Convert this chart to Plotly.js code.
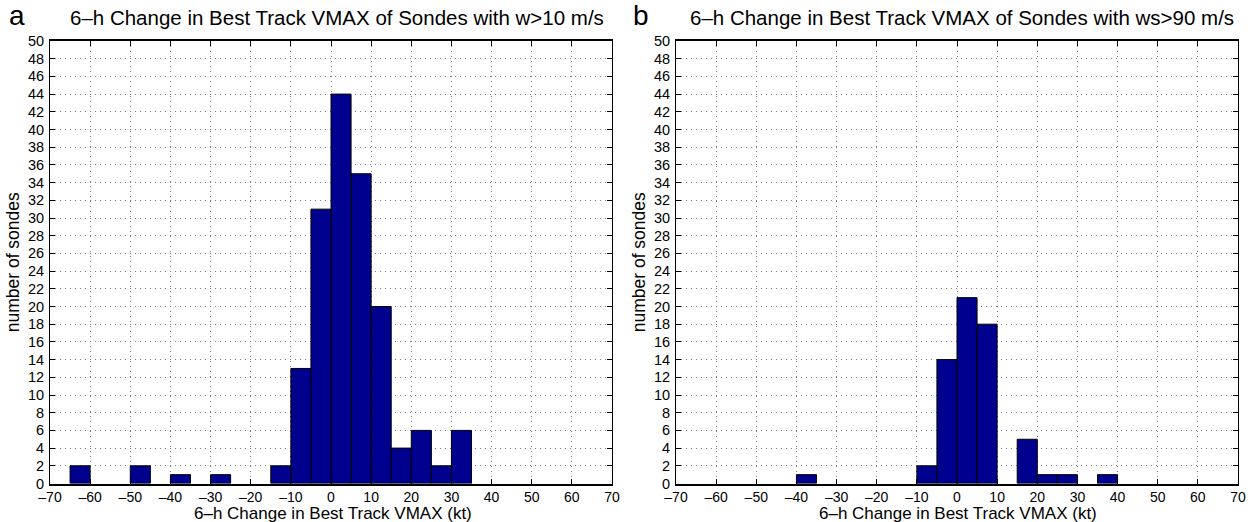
<!DOCTYPE html>
<html>
<head>
<meta charset="utf-8">
<script src="https://cdn.plot.ly/plotly-3.0.1.min.js"></script>
<style>html,body{margin:0;padding:0;background:#fff;}#chart{width:1248px;height:522px;}</style>
</head>
<body>
<div id="chart"></div>
<script>
// Bin centres (kt), bin width 5 kt
const binsA = [-62.5, -47.5, -37.5, -27.5, -12.5, -7.5, -2.5, 2.5, 7.5, 12.5, 17.5, 22.5, 27.5, 32.5];
const countsA = [2, 2, 1, 1, 2, 13, 31, 44, 35, 20, 4, 6, 2, 6];
const binsB = [-37.5, -7.5, -2.5, 2.5, 7.5, 17.5, 22.5, 27.5, 37.5];
const countsB = [1, 2, 14, 21, 18, 5, 1, 1, 1];
const xTicks = [-70, -60, -50, -40, -30, -20, -10, 0, 10, 20, 30, 40, 50, 60, 70];
const yTicks = [0,2,4,6,8,10,12,14,16,18,20,22,24,26,28,30,32,34,36,38,40,42,44,46,48,50];
const titleA = "6\u2013h Change in Best Track VMAX of Sondes with w>10 m/s";
const titleB = "6\u2013h Change in Best Track VMAX of Sondes with ws>90 m/s";
const xLabel = "6\u2013h Change in Best Track VMAX (kt)";
const yLabel = "number of sondes";
const binWidth = 5;

const FONT = "Liberation Sans, Arial, Helvetica, sans-serif";
const barColor = "#00008f";

function bar(x, y, xa, ya) {
  return {
    type: "bar", x: x, y: y, xaxis: xa, yaxis: ya,
    width: x.map(() => binWidth),
    marker: {color: barColor, line: {color: "#000", width: 1}},
    hoverinfo: "x+y", showlegend: false
  };
}

function xax(domain, anchor) {
  return {
    domain: domain, anchor: anchor, range: [-70, 70],
    tickmode: "array", tickvals: xTicks, ticktext: xTicks.map(v => v < 0 ? "\u2013" + Math.abs(v) : String(v)),
    ticks: "inside", ticklen: 5, tickcolor: "#000", tickwidth: 1,
    showline: true, linecolor: "#000", linewidth: 2, mirror: "ticks",
    showgrid: true, gridcolor: "#7a7a7a", griddash: "1px,4px", gridwidth: 1,
    zeroline: false, fixedrange: true, ticklabelstandoff: 0,
    tickfont: {family: FONT, size: 14, color: "#000"},
    title: {text: ""}
  };
}
function yax(domain, anchor) {
  return {
    domain: domain, anchor: anchor, range: [0, 50],
    tickmode: "array", tickvals: yTicks, ticktext: yTicks.map(String),
    ticks: "inside", ticklen: 5, tickcolor: "#000", tickwidth: 1,
    showline: true, linecolor: "#000", linewidth: 1, mirror: "ticks",
    showgrid: true, gridcolor: "#7a7a7a", griddash: "1px,4px", gridwidth: 1,
    zeroline: false, fixedrange: true, ticklabelstandoff: 2,
    tickfont: {family: FONT, size: 14.5, color: "#000"},
    title: {text: yLabel, font: {family: FONT, size: 17.5, color: "#000"}, standoff: 3}
  };
}

const W = 1248, H = 522;
const yDom = [1 - 483.5 / H, 1 - 41 / H];
function ann(text, x, y, size, extra) {
  return Object.assign({text: text, xref: "paper", yref: "paper", x: x / W, y: 1 - y / H,
    xanchor: "center", yanchor: "middle", showarrow: false, borderpad: 0,
    font: {family: FONT, size: size, color: "#000"}}, extra || {});
}
const layout = {
  width: W, height: H,
  margin: {l: 0, r: 0, t: 0, b: 0},
  paper_bgcolor: "#fff", plot_bgcolor: "#fff",
  bargap: 0,
  font: {family: FONT, color: "#000"},
  xaxis: xax([50 / W, 612 / W], "y"),
  yaxis: yax(yDom, "x"),
  xaxis2: xax([676 / W, 1238 / W], "y2"),
  yaxis2: yax(yDom, "x2"),
  annotations: [
    ann(titleA, 337, 17, 20.5),
    ann(titleB, 962, 17, 20.5),
    ann("a", 17, 15, 28),
    ann("b", 641, 15, 28),
    ann(xLabel, 333, 513.5, 17),
    ann(xLabel, 958, 513.5, 17)
  ]
};

Plotly.newPlot("chart", [bar(binsA, countsA, "x", "y"), bar(binsB, countsB, "x2", "y2")], layout, {displayModeBar: false, staticPlot: true});
</script>
</body>
</html>
